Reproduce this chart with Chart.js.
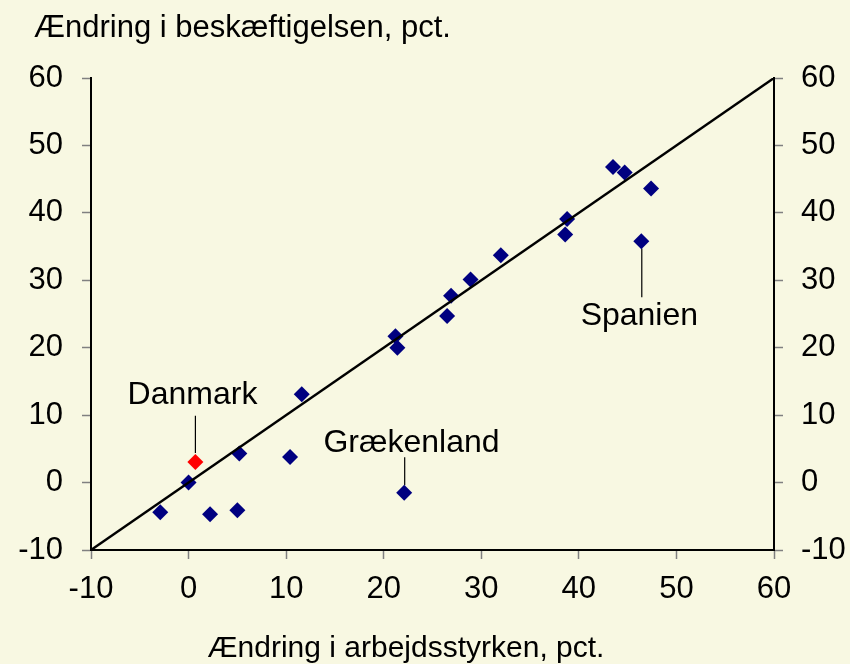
<!DOCTYPE html>
<html><head><meta charset="utf-8">
<script src="https://cdn.jsdelivr.net/npm/chart.js@4/dist/chart.umd.min.js"></script>
<style>html,body{margin:0;padding:0;background:#F8F8E2;}canvas{display:block;}</style>
</head><body>
<canvas id="c" width="850" height="664"></canvas>
<script>
// Change in labour force (x) and change in employment (y), pct.
const laborForceChange = [-2.9, 0.0, 2.2, 5.0, 5.2, 10.4, 11.6, 21.2, 21.4, 22.1, 26.5, 26.9, 28.9, 32.0, 38.6, 38.8, 43.5, 44.7, 46.4, 47.4];
const employmentChange = [-4.4, 0.0, -4.7, -4.1, 4.3, 3.8, 13.1, 21.7, 20.0, -1.5, 24.7, 27.7, 30.1, 33.7, 36.8, 39.1, 46.8, 46.0, 35.8, 43.6];
const denmarkLabor = [0.7];
const denmarkEmployment = [3.05];
const diagonalX = [-10, 60];
const diagonalY = [-10, 60];
const tickValues = [-10, 0, 10, 20, 30, 40, 50, 60];
const yTitle = 'Ændring i beskæftigelsen, pct.';
const xTitle = 'Ændring i arbejdsstyrken, pct.';
// annotations: text, label anchor (data), leader line (data)
const annotations = [
  {text: 'Danmark',    x: 0.4,  y: 11.6, lx: 0.7,  ly1: 9.9, ly2: 4.4},
  {text: 'Grækenland', x: 22.85, y: 4.6, lx: 22.15, ly1: 3.75, ly2: -0.4},
  {text: 'Spanien',    x: 46.2, y: 23.4, lx: 46.45, ly1: 34.7, ly2: 27.5}
];

const FONT = "'Liberation Sans', Arial, sans-serif";
const FS = 31;
const pts = (xs, ys) => xs.map((v, i) => ({x: v, y: ys[i]}));

const leaderSets = annotations.map(a => ({
  type: 'scatter', data: [{x: a.lx, y: a.ly1}, {x: a.lx, y: a.ly2}],
  showLine: true, borderColor: '#000', borderWidth: 1.2, pointRadius: 0, order: 2
}));

const textPlugin = {
  id: 'texts',
  afterDraw(chart) {
    const ctx = chart.ctx, xs = chart.scales.x, ys = chart.scales.y;
    ctx.save();
    ctx.fillStyle = '#000';
    ctx.textBaseline = 'alphabetic';
    ctx.font = FS + 'px ' + FONT;
    ctx.textAlign = 'left';
    ctx.fillText(yTitle, 34, 37);
    ctx.font = '30px ' + FONT;
    ctx.textAlign = 'center';
    ctx.fillText(xTitle, 406, 657);
    ctx.font = '32px ' + FONT;
    annotations.forEach(a => {
      ctx.fillText(a.text, xs.getPixelForValue(a.x), ys.getPixelForValue(a.y));
    });
    ctx.restore();
  }
};

const axisCommon = (pos) => ({
  type: 'linear', position: pos, min: -10, max: 60,
  afterBuildTicks(s) { s.ticks = tickValues.map(v => ({value: v})); },
  ticks: {color: '#000', font: {family: FONT, size: FS}, padding: 19},
  grid: {drawOnChartArea: false, drawTicks: true, tickLength: 9, tickColor: '#808080', tickWidth: 1.5},
  border: {display: true, color: '#000', width: 2}
});

const xAxis = axisCommon('bottom');
xAxis.ticks.padding = 12;
xAxis.afterFit = s => { s.height = 114; };
const yAxis = axisCommon('left');
yAxis.afterFit = s => { s.width = 91; };
const y2Axis = axisCommon('right');
y2Axis.ticks.padding = 18;
y2Axis.afterFit = s => { s.width = 76; };

new Chart(document.getElementById('c'), {
  type: 'scatter',
  data: {
    datasets: [
      {data: pts(diagonalX, diagonalY), showLine: true, borderColor: '#000', borderWidth: 2.4, pointRadius: 0, order: 0},
      {data: pts(laborForceChange, employmentChange), backgroundColor: '#000080', borderColor: '#000080', borderWidth: 0, pointStyle: 'rectRot', pointRadius: 8, order: 1},
      {data: pts(denmarkLabor, denmarkEmployment), backgroundColor: '#FF0000', borderColor: '#FF0000', borderWidth: 0, pointStyle: 'rectRot', pointRadius: 8, order: 1},
      ...leaderSets
    ]
  },
  options: {
    responsive: false, animation: false,
    layout: {padding: {top: 78, left: 0, right: 0, bottom: 0}},
    plugins: {legend: {display: false}, tooltip: {enabled: false}, title: {display: false}},
    scales: {x: xAxis, y: yAxis, y2: y2Axis}
  },
  plugins: [textPlugin]
});
</script>
</body></html>
